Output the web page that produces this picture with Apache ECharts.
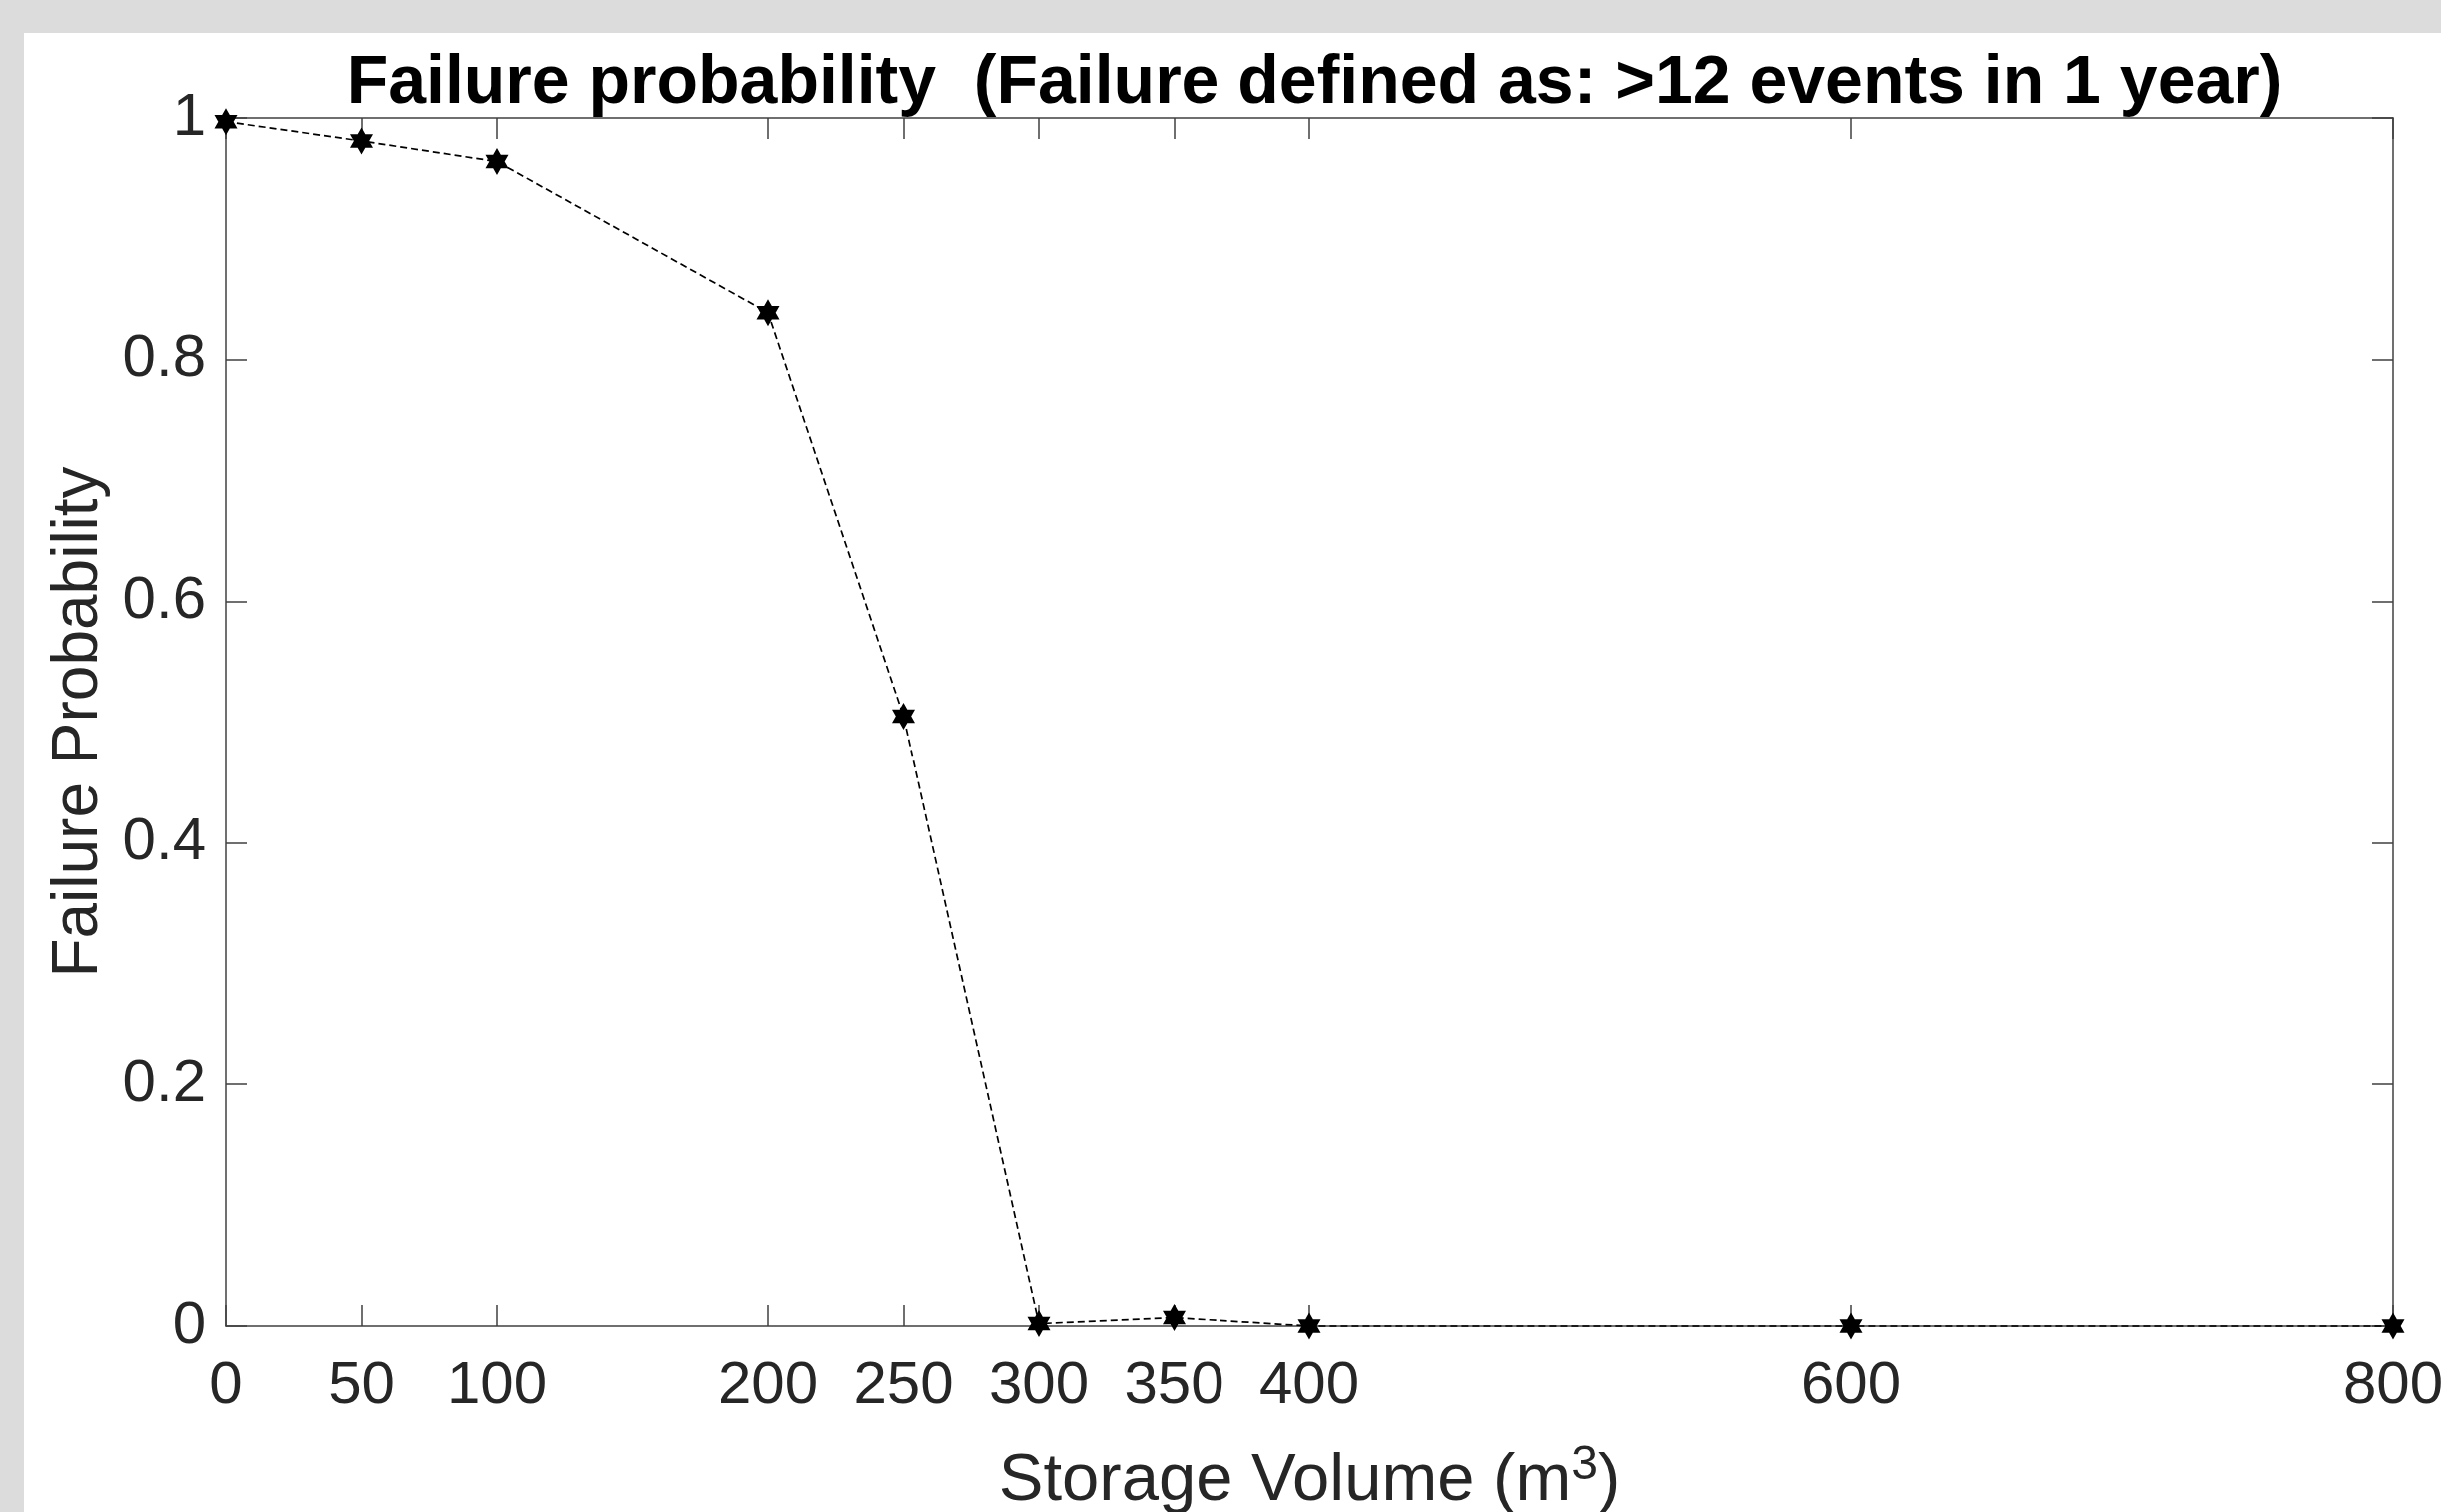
<!DOCTYPE html>
<html>
<head>
<meta charset="utf-8">
<script src="https://cdn.jsdelivr.net/npm/echarts@6/dist/echarts.min.js"></script>
<style>
  html, body { margin: 0; padding: 0; width: 2442px; height: 1513px; background: #dcdcdc; overflow: hidden; }
  #panel { position: absolute; left: 24px; top: 33px; right: 0; bottom: 0; background: #ffffff; }
  #chart { position: absolute; left: 0; top: 0; width: 2442px; height: 1513px; }
</style>
</head>
<body>
<div id="panel"></div>
<div id="chart"></div>
<script>
// ---- data ----
const storageVolume = [0, 50, 100, 200, 250, 300, 350, 400, 600, 800];
const failureProbability = [0.997, 0.981, 0.964, 0.839, 0.505, 0.002, 0.007, 0, 0, 0];
const xTickValues = [0, 50, 100, 200, 250, 300, 350, 400, 600, 800];
const yTickValues = [0, 0.2, 0.4, 0.6, 0.8, 1];
const titleText = 'Failure probability  (Failure defined as: >12 events in 1 year)';
const xAxisName = 'Storage Volume (m{sup|3})';
const yAxisName = 'Failure Probability';

const FONT = '"Liberation Sans", Arial, Helvetica, sans-serif';
const AXIS_COLOR = '#404040';
const hexagram = 'path://M0,-10 L2.887,-5 L8.66,-5 L5.774,0 L8.66,5 L2.887,5 L0,10 L-2.887,5 L-8.66,5 L-5.774,0 L-8.66,-5 L-2.887,-5 Z';

const chart = echarts.init(document.getElementById('chart'), null, { renderer: 'canvas' });

const seriesData = storageVolume.map((x, i) => [x, failureProbability[i]]);

const baseX = {
  type: 'value', min: 0, max: 800,
  axisLine: { show: true, onZero: false, lineStyle: { color: AXIS_COLOR, width: 1.5 } },
  axisTick: { show: true, inside: true, length: 21, customValues: xTickValues, lineStyle: { color: AXIS_COLOR, width: 1.5 } },
  splitLine: { show: false }
};
const baseY = {
  type: 'value', min: 0, max: 1, interval: 0.2,
  axisLine: { show: true, onZero: false, lineStyle: { color: AXIS_COLOR, width: 1.5 } },
  axisTick: { show: true, inside: true, length: 21, customValues: yTickValues, lineStyle: { color: AXIS_COLOR, width: 1.5 } },
  splitLine: { show: false }
};

chart.setOption({
  backgroundColor: 'transparent',
  animation: false,
  title: {
    text: titleText,
    left: 1310,
    textAlign: 'center',
    top: 45,
    textStyle: { fontFamily: FONT, fontSize: 68, fontWeight: 'bold', color: '#000' }
  },
  grid: { left: 226, right: 48, top: 118, bottom: 186, containLabel: false, outerBoundsMode: 'none' },
  xAxis: [
    Object.assign({}, baseX, {
      position: 'bottom',
      name: xAxisName,
      nameLocation: 'middle',
      nameGap: 116,
      nameTextStyle: {
        fontFamily: FONT, fontSize: 67, color: '#262626', lineHeight: 80,
        rich: { sup: { fontFamily: FONT, fontSize: 48, color: '#262626', verticalAlign: 'top', lineHeight: 28 } }
      },
      axisLabel: {
        show: true, customValues: xTickValues, margin: 30,
        fontFamily: FONT, fontSize: 60, color: '#262626'
      }
    }),
    Object.assign({}, baseX, {
      position: 'top',
      axisLabel: { show: false }
    })
  ],
  yAxis: [
    Object.assign({}, baseY, {
      position: 'left',
      name: yAxisName,
      nameLocation: 'middle',
      nameGap: 114,
      nameTextStyle: { fontFamily: FONT, fontSize: 64, color: '#262626' },
      axisLabel: { show: true, customValues: yTickValues, margin: 20, fontFamily: FONT, fontSize: 60, color: '#262626' }
    }),
    Object.assign({}, baseY, {
      position: 'right',
      axisLabel: { show: false }
    })
  ],
  series: [{
    type: 'line',
    xAxisIndex: 0,
    yAxisIndex: 0,
    data: seriesData,
    symbol: hexagram,
    symbolSize: [23, 27],
    showAllSymbol: true,
    itemStyle: { color: '#000', borderWidth: 0 },
    lineStyle: { color: '#000', width: 1.7, type: [7, 4] },
    clip: false,
    z: 5
  }]
});
</script>
</body>
</html>
